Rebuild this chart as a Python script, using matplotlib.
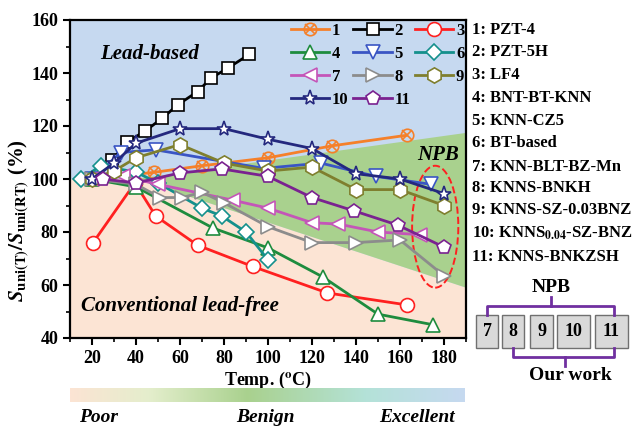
import numpy as np
import matplotlib
matplotlib.use('Agg')
import matplotlib.pyplot as plt
from matplotlib.colors import LinearSegmentedColormap
from matplotlib.patches import Ellipse, Polygon, Rectangle

plt.rcParams['font.family'] = ['Liberation Serif', 'DejaVu Serif']
plt.rcParams['font.weight'] = 'bold'
plt.rcParams['mathtext.fontset'] = 'stix'

# data
t1 = [20, 48, 70, 100, 129, 163]
s1 = [100, 102.5, 105, 108, 112.5, 116.5]
t2 = [20, 29, 36, 44, 52, 59, 68, 74, 82, 91.5]
s2 = [100, 107, 114, 118, 123, 128, 133, 138, 142, 147]
t3 = [20.5, 39.5, 49, 68, 93, 127, 163]
s3 = [76, 98.5, 86, 75, 67, 57, 52.5]
t4 = [20, 40, 75, 100, 125, 150, 175]
s4 = [100, 97, 81.5, 74, 63, 49, 45]
t5 = [20, 33, 49, 98, 124, 149, 174]
s5 = [100, 110, 111, 104, 106, 101, 98]
t6 = [15, 24, 40, 50, 70, 79, 90, 100]
s6 = [100, 105, 102.6, 98.5, 89, 86, 80, 69.5]
t7 = [20, 34, 50, 84, 100, 120, 132, 150, 169]
s7 = [100, 101, 98, 92, 89, 83.5, 83, 80, 79]
t8 = [20, 40, 51, 61, 70, 80, 100, 120, 140, 160, 180]
s8 = [100, 98, 93, 93, 95, 91, 82, 76, 76, 77, 63.5]
t9 = [20, 30, 40, 60, 80, 100, 120, 140, 160, 180]
s9 = [100, 103, 108, 113, 106, 103, 104.5, 96, 96, 90]
t10 = [20, 30, 40, 60, 80, 100, 120, 140, 160, 180]
s10 = [100, 106, 113.5, 119, 119, 115, 111.5, 102, 100, 94.5]
t11 = [25, 40, 60, 79, 100, 120, 139, 159, 180]
s11 = [100, 98.5, 102.3, 103.8, 101, 93, 88, 82.6, 74.3]

names = ['PZT-4', 'PZT-5H', 'LF4', 'BNT-BT-KNN', 'KNN-CZ5', 'BT-based',
         'KNN-BLT-BZ-Mn', 'KNNS-BNKH', 'KNNS-SZ-0.03BNZ',
         r'KNNS$_{\mathbf{0.04}}$-SZ-BNZ', 'KNNS-BNKZSH']
npb_ids = ['7', '8', '9', '10', '11']

temps = [t1, t2, t3, t4, t5, t6, t7, t8, t9, t10, t11]
vals = [s1, s2, s3, s4, s5, s6, s7, s8, s9, s10, s11]
colors = ['#f5802a', '#000000', '#ff2020', '#1e8c3e', '#3a55c4', '#14908c',
          '#c455b8', '#8c8c8c', '#7f7f2e', '#24287e', '#7a2290']
markers = ['o', 's', 'o', '^', 'v', 'D', '<', '>', 'h', '*', 'p']
msize = [9, 8, 10, 10, 10, 8, 10, 10, 11, 11, 10]

blue = '#c6d9f0'
peach = '#fce4d4'
green = '#a9d18e'

fig = plt.figure(figsize=(6.41, 4.26), dpi=100)
ax = fig.add_axes([70 / 641, 1 - 338 / 426, 396 / 641, 318 / 426])
ax.set_facecolor(blue)
ax.add_patch(Polygon([(10, 40), (10, 100), (40, 100), (190, 59), (190, 40)],
                     closed=True, fc=peach, ec='none', zorder=0))
ax.add_patch(Polygon([(40, 100), (190, 117.4), (190, 59)],
                     closed=True, fc=green, ec='none', zorder=0))

handles = []
for i in range(11):
    fc = 'none' if i == 0 else 'white'
    ln, = ax.plot(temps[i], vals[i], color=colors[i], lw=2, marker=markers[i],
                  ms=msize[i], mfc=fc, mec=colors[i], mew=1.2)
    if i == 0:
        xl, = ax.plot(temps[i], vals[i], ls='none', marker='x', ms=7,
                      color=colors[i], mew=1.2)
        handles.append((ln, xl))
    else:
        handles.append(ln)

order = [0, 3, 6, 9, 1, 4, 7, 10, 2, 5, 8]
leg = ax.legend([handles[k] for k in order], [str(k + 1) for k in order],
                ncol=3, loc='upper right', frameon=False,
                prop={'size': 12, 'weight': 'bold'}, handlelength=2.3,
                handletextpad=0.15, columnspacing=0.3, labelspacing=0.42,
                borderaxespad=0.0, borderpad=0.1, bbox_to_anchor=(1.0, 0.995))

ax.add_patch(Ellipse((176, 82), 21, 46, fill=False, ec='#ff2020', ls='--', lw=1.4))
ax.text(177.5, 109, 'NPB', fontsize=15, style='italic', weight='bold',
        ha='center', va='center')
ax.text(46, 147, 'Lead-based', fontsize=15, style='italic', weight='bold',
        ha='center', va='center')
ax.text(60, 52, 'Conventional lead-free', fontsize=15, style='italic',
        weight='bold', ha='center', va='center')

ax.set_xlim(10, 190)
ax.set_ylim(40, 160)
ax.set_xticks(np.arange(20, 181, 20))
ax.set_xticks(np.arange(10, 191, 10), minor=True)
ax.set_yticks(np.arange(40, 161, 20))
ax.set_yticks(np.arange(50, 160, 10), minor=True)
ax.tick_params(labelsize=13, width=1.5, length=5)
ax.tick_params(which='minor', width=1.2, length=3)
for sp in ax.spines.values():
    sp.set_linewidth(1.6)
ax.set_xlabel(r'Temp. ($^{\mathbf{o}}$C)', fontsize=13, weight='bold', labelpad=2)
ax.set_ylabel(r'$\mathbfit{S}_{\mathbf{uni(T)}}/\mathbfit{S}_{\mathbf{uni(RT)}}$ (%)',
              fontsize=15, weight='bold')
ax.yaxis.set_label_coords(-0.098, 0.37)

# material list on the right
for i, nm in enumerate(names):
    y = [30, 52, 75, 98, 121, 143, 167, 188, 210, 233, 257][i]
    fig.text(472 / 641, 1 - y / 426, '%d: %s' % (i + 1, nm), fontsize=12,
             weight='bold', ha='left', va='center')

# NPB / our work schematic
box_x = [(476, 498), (502, 524), (530, 553), (557, 590), (595, 628)]
for (x0, x1), lab in zip(box_x, npb_ids):
    fig.patches.append(Rectangle((x0 / 641, 1 - 348 / 426), (x1 - x0) / 641, 33 / 426,
                                 transform=fig.transFigure, fc='#d9d9d9',
                                 ec='#707070', lw=1))
    fig.text((x0 + x1) / 2 / 641, 1 - 331 / 426, lab, fontsize=13, weight='bold',
             ha='center', va='center')
purple = '#7030a0'
fig.add_artist(plt.Line2D(np.array([487, 487, 614, 614]) / 641,
                          1 - np.array([315, 306, 306, 315]) / 426, color=purple, lw=2))
fig.add_artist(plt.Line2D(np.array([551, 551]) / 641,
                          1 - np.array([306, 297]) / 426, color=purple, lw=2))
fig.add_artist(plt.Line2D(np.array([513, 513, 614, 614]) / 641,
                          1 - np.array([348, 357, 357, 348]) / 426, color=purple, lw=2))
fig.add_artist(plt.Line2D(np.array([565, 565]) / 641,
                          1 - np.array([357, 366]) / 426, color=purple, lw=2))
fig.text(551 / 641, 1 - 287 / 426, 'NPB', fontsize=14, weight='bold',
         ha='center', va='center')
fig.text(570 / 641, 1 - 375 / 426, 'Our work', fontsize=14, weight='bold',
         ha='center', va='center')

# quality colour bar
cmap = LinearSegmentedColormap.from_list(
    'q', [(0, peach), (0.2, '#e4eecc'), (0.45, green), (0.75, '#b4e2d8'), (1, blue)])
cax = fig.add_axes([70 / 641, 1 - 402 / 426, 395 / 641, 14 / 426])
cax.imshow(np.linspace(0, 1, 256)[None, :], aspect='auto', cmap=cmap)
cax.axis('off')
for x, lab in [(99, 'Poor'), (265, 'Benign'), (417, 'Excellent')]:
    fig.text(x / 641, 1 - 418 / 426, lab, fontsize=14, style='italic',
             weight='bold', ha='center', va='center')

fig.savefig('out.png', dpi=100)
